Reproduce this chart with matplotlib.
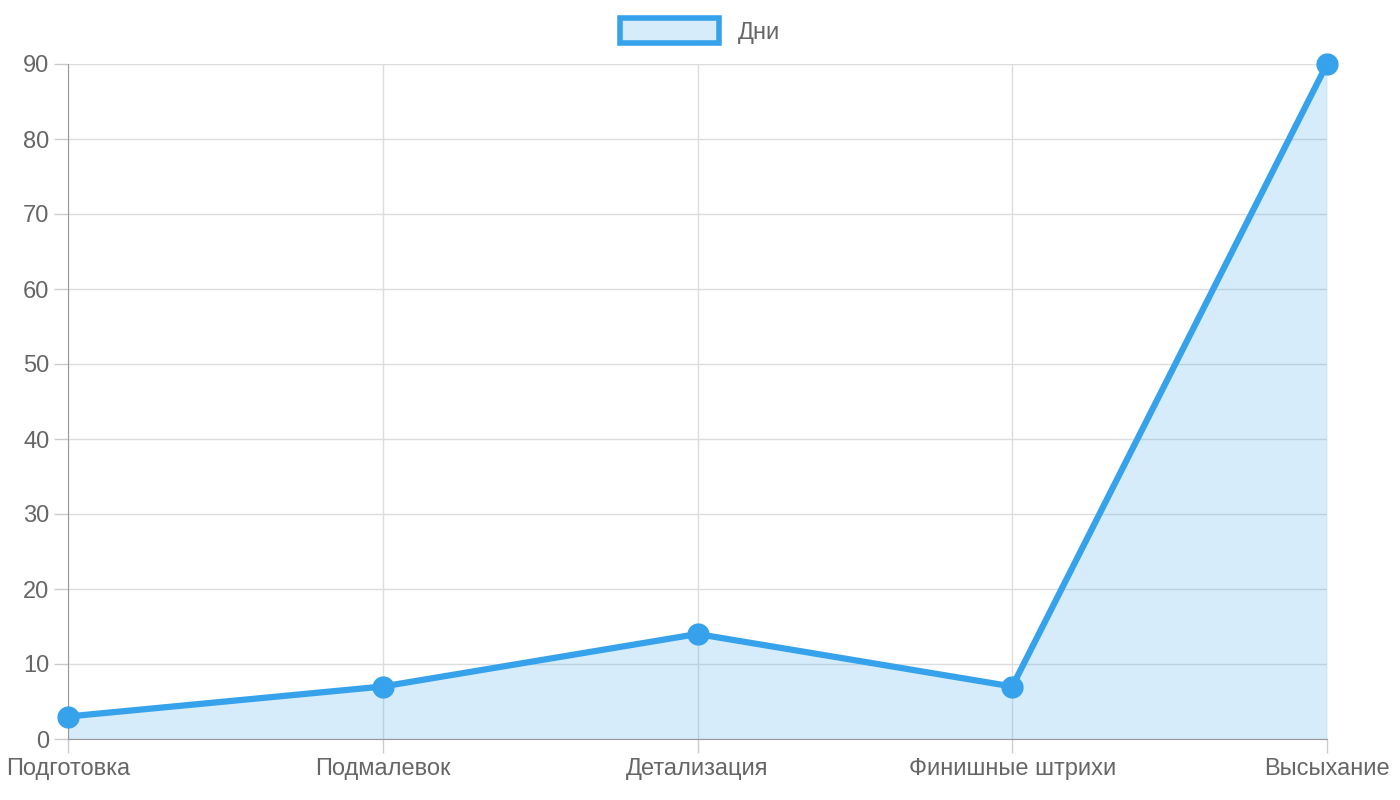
import matplotlib
matplotlib.use("Agg")
import matplotlib.pyplot as plt
from matplotlib.patches import Patch

plt.rcParams['font.family'] = ['Liberation Sans', 'DejaVu Sans']

stages = ['Подготовка', 'Подмалевок', 'Детализация', 'Финишные штрихи', 'Высыхание']
days = [3, 7, 14, 7, 90]
yticks = list(range(0, 100, 10))

blue = '#36A2EB'
fill = (54/255, 162/255, 235/255, 0.2)
txt = '#666666'

fig = plt.figure(figsize=(14, 8), dpi=100)
ax = fig.add_axes([68/1400, 1-739/800, (1327-68)/1400, (739-64)/800])

x = list(range(len(stages)))
ax.fill_between(x, days, 0, color=fill, lw=0)
ax.plot(x, days, color=blue, lw=4.5, marker='o', ms=15, mfc=blue, mec=blue, clip_on=False, zorder=3)

ax.set_xlim(0, len(stages) - 1)
ax.set_ylim(0, 90)
ax.set_xticks(x)
ax.set_xticklabels(stages)
ax.set_yticks(yticks)
ax.tick_params(colors='#cccccc', labelcolor=txt, labelsize=17, length=10, width=1)
ax.grid(True, color='#dddddd', lw=1)
ax.set_axisbelow(True)
for s in ['top', 'right']:
    ax.spines[s].set_visible(False)
for s in ['left', 'bottom']:
    ax.spines[s].set_color('#999999')

leg = fig.legend(handles=[Patch(facecolor=fill, edgecolor=blue, linewidth=4, label='Дни')],
                 loc='center', bbox_to_anchor=(0.5, 1-31/800), frameon=False,
                 fontsize=17, labelcolor=txt, handlelength=4.2, handleheight=1.2)

fig.savefig('out.png', dpi=100)
